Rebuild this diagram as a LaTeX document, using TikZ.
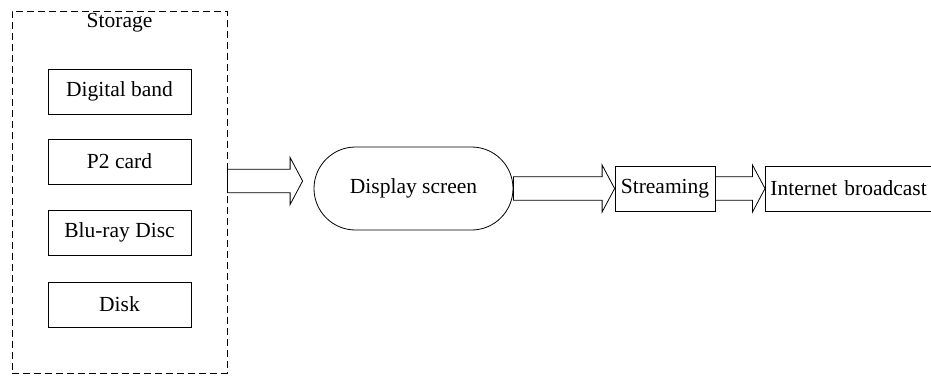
\documentclass[tikz,border=0pt]{standalone}
\usepackage{fontspec}
\setmainfont{Liberation Serif}
\usetikzlibrary{calc}
\begin{document}
\begin{tikzpicture}[x=1pt,y=-1pt,
  every node/.style={font=\fontsize{21.5}{24}\selectfont, inner sep=0pt},
  stor/.style={draw, line width=0.8pt, minimum width=143, minimum height=45},
  grp/.style={draw, dashed, dash pattern=on 7pt off 4pt, line width=0.8pt},
  flowbox/.style={draw, line width=0.8pt, minimum height=45},
  blk/.style={draw, line width=0.8pt, line join=miter}]
\useasboundingbox (0,0) rectangle (931,376);
% storage group
\node[grp, minimum width=215, minimum height=362] (store) at (119.5,192) {};
\node[anchor=base] (storelbl) at (119.5,27) {Storage};
\node[stor] (s1) at (119.5,91.5) {Digital band};
\node[stor] (s2) at (119.5,161.5) {P2 card};
\node[stor] (s3) at (119.5,232.5) {Blu-ray Disc};
\node[stor] (s4) at (119.5,304.5) {Disk};
% flow
\node[draw, line width=0.8pt, minimum width=199, minimum height=83, rounded corners=41.5pt] (disp) at (413.5,188.5) {Display screen};
\node[flowbox, minimum width=100] (stream) at (665,188.5) {Streaming};
\node[flowbox, minimum width=180, anchor=west, text width=170, align=left] (inet) at (765,188.5) {Internet broadcast};
% block arrows: from, to, gap before target, vertical shift
\newcommand\blockarr[4]{%
  \draw[blk] let \p1=(#1.east), \p2=(#2.west) in
    (\x1,\y2+#4+11.75) -- (\x2-#3-12.5,\y2+#4+11.75) -- (\x2-#3-12.5,\y2+#4+23.5) -- (\x2-#3,\y2+#4)
    -- (\x2-#3-12.5,\y2+#4-23.5) -- (\x2-#3-12.5,\y2+#4-11.75) -- (\x1,\y2+#4-11.75) -- cycle;}
\blockarr{store}{disp}{11}{7.5}
\blockarr{disp}{stream}{0}{0}
\blockarr{stream}{inet}{0}{0}
\end{tikzpicture}
\end{document}
